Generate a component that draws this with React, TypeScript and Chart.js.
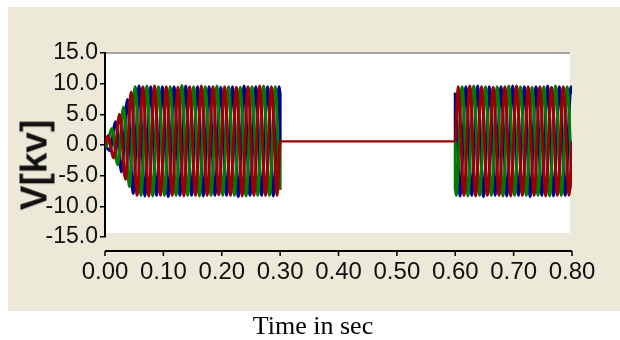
import React, { useEffect, useRef } from "react";
import { Chart, registerables } from "chart.js";

Chart.register(...registerables);

// X tick labels (seconds) and Y tick range (kV)
const xTicks = [0, 0.1, 0.2, 0.3, 0.4, 0.5, 0.6, 0.7, 0.8];
const yMin = -15;
const yMax = 15;
const yStep = 5;

// Phase A (red): times of turning points and their values
const tA = [
  0, 0.005, 0.015, 0.025, 0.035, 0.045,
  0.055, 0.065, 0.075, 0.085, 0.095, 0.105, 0.115, 0.125, 0.135, 0.145, 0.155, 0.165, 0.175,
  0.185, 0.195, 0.205, 0.215, 0.225, 0.235, 0.245, 0.255, 0.265, 0.275, 0.285, 0.295,
  0.3, 0.6,
  0.605, 0.615, 0.625, 0.635, 0.645, 0.655, 0.665, 0.675, 0.685, 0.695, 0.705, 0.715, 0.725,
  0.735, 0.745, 0.755, 0.765, 0.775, 0.785, 0.795,
  0.8,
];
const vA = [
  0, 1.5, -2.1, 5.0, -5.6, 8.6,
  -8.2, 9.5, -8.3, 9.6, -8.2, 9.5, -8.2, 9.4, -8.3, 9.5, -8.2, 9.6, -8.2, 9.5, -8.1, 9.5, -8.2,
  9.4, -8.3, 9.5, -8.2, 9.6, -8.2, 9.5, -8.2,
  0.6, 0.6,
  9.5, -8.2, 9.6, -8.3, 9.5, -8.2, 9.4, -8.2, 9.5, -8.3, 9.6, -8.2, 9.5, -8.2, 9.5, -8.3, 9.4,
  -8.2, 9.5, -8.2,
  0.6,
];

// Phase B (green)
const tB = [
  0, 0.0017, 0.0117, 0.0217, 0.0317, 0.0417,
  0.0517, 0.0617, 0.0717, 0.0817, 0.0917, 0.1017, 0.1117, 0.1217, 0.1317, 0.1417, 0.1517,
  0.1617, 0.1717, 0.1817, 0.1917, 0.2017, 0.2117, 0.2217, 0.2317, 0.2417, 0.2517, 0.2617,
  0.2717, 0.2817, 0.2917,
  0.3, 0.3, 0.6, 0.6,
  0.6017, 0.6117, 0.6217, 0.6317, 0.6417, 0.6517, 0.6617, 0.6717, 0.6817, 0.6917, 0.7017,
  0.7117, 0.7217, 0.7317, 0.7417, 0.7517, 0.7617, 0.7717, 0.7817, 0.7917,
  0.8,
];
const vB = [
  0, -0.3, 2.7, -3.2, 6.2, -6.8,
  9.5, -8.2, 9.6, -8.3, 9.5, -8.2, 9.5, -8.2, 9.7, -8.2, 9.5, -8.3, 9.5, -8.2, 9.6, -8.2, 9.5,
  -8.2, 9.4, -8.3, 9.5, -8.2, 9.6, -8.2, 9.5,
  -7.1, 0.6, 0.6, -7.1,
  -8.2, 9.5, -8.3, 9.6, -8.2, 9.5, -8.2, 9.5, -8.3, 9.6, -8.2, 9.5, -8.2, 9.4, -8.2, 9.5, -8.3,
  9.6, -8.2, 9.5,
  -7.1,
];

// Phase C (blue)
const tC = [
  0, 0.0083, 0.0183, 0.0283, 0.0383, 0.0483,
  0.0583, 0.0683, 0.0783, 0.0883, 0.0983, 0.1083, 0.1183, 0.1283, 0.1383, 0.1483, 0.1583,
  0.1683, 0.1783, 0.1883, 0.1983, 0.2083, 0.2183, 0.2283, 0.2383, 0.2483, 0.2583, 0.2683,
  0.2783, 0.2883, 0.2983,
  0.3, 0.3, 0.6, 0.6,
  0.6083, 0.6183, 0.6283, 0.6383, 0.6483, 0.6583, 0.6683, 0.6783, 0.6883, 0.6983, 0.7083,
  0.7183, 0.7283, 0.7383, 0.7483, 0.7583, 0.7683, 0.7783, 0.7883, 0.7983,
  0.8,
];
const vC = [
  0, -0.9, 3.8, -4.4, 7.4, -7.9,
  9.6, -8.3, 9.5, -8.2, 9.5, -8.4, 9.5, -8.2, 9.6, -8.2, 9.5, -8.3, 9.5, -8.2, 9.4, -8.2, 9.5,
  -8.4, 9.6, -8.2, 9.5, -8.2, 9.5, -8.3, 9.5,
  8.3, 0.6, 0.6, 8.3,
  -8.3, 9.5, -8.2, 9.6, -8.4, 9.5, -8.2, 9.5, -8.3, 9.6, -8.2, 9.5, -8.4, 9.5, -8.2, 9.6, -8.3,
  9.5, -8.2, 9.5,
  8.3,
];

const FONT = "'Liberation Sans', Arial, sans-serif";

const toPoints = (t: number[], v: number[]) => t.map((x, i) => ({ x, y: v[i] }));

const isFlat = (c: any) => c.p0.parsed.y === c.p1.parsed.y;

const framePlugin = {
  id: "frame",
  beforeDraw(chart: any) {
    const { ctx, chartArea: a } = chart;
    ctx.save();
    ctx.fillStyle = "#ffffff";
    ctx.fillRect(a.left + 1, a.top, a.right - a.left - 3, a.bottom - a.top - 4);
    ctx.strokeStyle = "#a4a4a4";
    ctx.lineWidth = 2;
    ctx.beginPath();
    ctx.moveTo(a.left, a.top);
    ctx.lineTo(a.right - 2, a.top);
    ctx.stroke();
    ctx.restore();
  },
  afterDraw(chart: any) {
    const { ctx, chartArea: a, scales } = chart;
    const x = scales.x;
    const y0 = a.bottom + 14;
    ctx.save();
    ctx.strokeStyle = "#000000";
    ctx.lineWidth = 2;
    ctx.beginPath();
    ctx.moveTo(x.getPixelForValue(xTicks[0]), y0);
    ctx.lineTo(x.getPixelForValue(xTicks[xTicks.length - 1]), y0);
    ctx.stroke();
    ctx.lineWidth = 1.5;
    ctx.beginPath();
    x.ticks.forEach((t: any) => {
      const px = x.getPixelForValue(t.value);
      ctx.moveTo(px, y0);
      ctx.lineTo(px, y0 + 5);
    });
    ctx.stroke();
    ctx.restore();
  },
};

const baseStyle = {
  borderWidth: 3,
  pointRadius: 0,
  cubicInterpolationMode: "monotone" as const,
};

export default function App() {
  const ref = useRef<HTMLCanvasElement | null>(null);

  useEffect(() => {
    if (!ref.current) return;
    const chart = new Chart(ref.current, {
      type: "line",
      data: {
        datasets: [
          {
            data: toPoints(tA, vA),
            borderColor: "#9a0000",
            ...baseStyle,
            segment: { borderWidth: (c: any) => (isFlat(c) ? 2.2 : 3) },
          },
          {
            data: toPoints(tB, vB),
            borderColor: "#007a00",
            ...baseStyle,
            segment: { borderColor: (c: any) => (isFlat(c) ? "rgba(0,0,0,0)" : undefined) },
          },
          {
            data: toPoints(tC, vC),
            borderColor: "#000090",
            ...baseStyle,
            segment: { borderColor: (c: any) => (isFlat(c) ? "rgba(0,0,0,0)" : undefined) },
          },
        ],
      },
      options: {
        animation: false,
        responsive: false,
        maintainAspectRatio: false,
        layout: { padding: { left: 0, right: 48, top: 46, bottom: 0 } },
        plugins: { legend: { display: false }, tooltip: { enabled: false } },
        scales: {
          x: {
            type: "linear",
            min: xTicks[0],
            max: xTicks[xTicks.length - 1],
            afterFit: (s: any) => {
              s.height = 74;
            },
            afterBuildTicks: (s: any) => {
              s.ticks = xTicks.map((value) => ({ value }));
            },
            border: { display: false },
            grid: {
              display: true,
              drawOnChartArea: false,
              drawTicks: true,
              tickLength: 14,
              color: "rgba(0,0,0,0)",
            },
            ticks: {
              autoSkip: false,
              maxRotation: 0,
              padding: 7,
              color: "#111111",
              font: { family: FONT, size: 24 },
              callback: (v: any) => Number(v).toFixed(2),
            },
          },
          y: {
            min: yMin,
            max: yMax,
            afterFit: (s: any) => {
              s.width = 97;
            },
            border: { display: true, color: "#000000", width: 2 },
            grid: {
              display: true,
              drawOnChartArea: false,
              drawTicks: true,
              tickLength: 5,
              color: "#000000",
              lineWidth: 1.5,
            },
            ticks: {
              stepSize: yStep,
              padding: 2,
              color: "#111111",
              font: { family: FONT, size: 23 },
              callback: (v: any) => Number(v).toFixed(1),
            },
          },
        },
      },
      plugins: [framePlugin],
    });
    return () => chart.destroy();
  }, []);

  return (
    <div style={{ position: "fixed", left: 0, top: 0, width: 620, height: 340, background: "#ffffff" }}>
      <canvas
        ref={ref}
        width={612}
        height={304}
        style={{ position: "absolute", left: 8, top: 7, width: 612, height: 304, background: "#ECE9D8" }}
      />
      <div
        style={{
          position: "absolute",
          left: 34,
          top: 165,
          transform: "translate(-50%, -50%) rotate(-90deg)",
          whiteSpace: "nowrap",
          font: `bold 37px ${FONT}`,
          lineHeight: "37px",
          color: "#111111",
        }}
      >
        V[kv]
      </div>
      <div
        style={{
          position: "absolute",
          left: 0,
          width: 626,
          top: 313,
          textAlign: "center",
          font: "26px 'Liberation Serif', 'Times New Roman', serif",
          lineHeight: "26px",
          color: "#000000",
        }}
      >
        Time in sec
      </div>
    </div>
  );
}
